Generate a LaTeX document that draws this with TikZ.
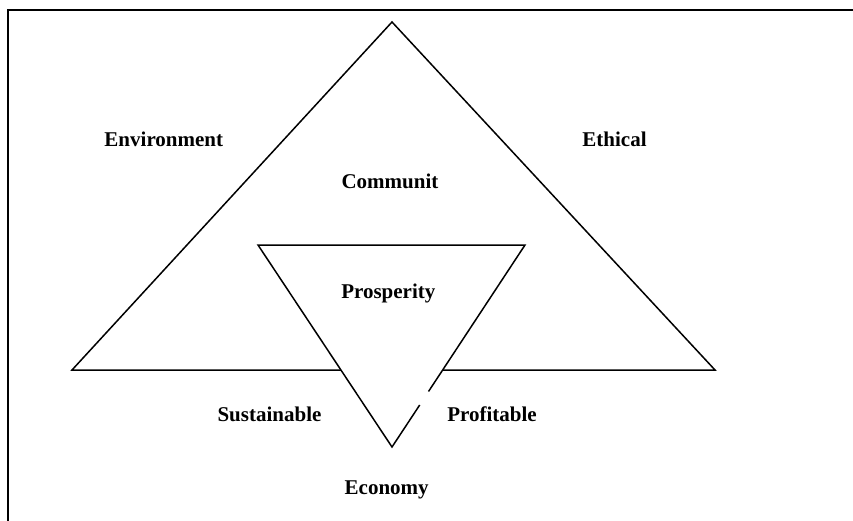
\documentclass[tikz,border=0pt]{standalone}
\usepackage{fontspec}
\setmainfont{Liberation Serif}
\begin{document}
\begin{tikzpicture}[x=1pt,y=-1pt,
  lbl/.style={font=\fontsize{21}{24}\selectfont\bfseries, anchor=base, inner sep=0pt},
  frameline/.style={line width=2pt, line cap=butt},
  triline/.style={line width=1.5pt, line join=miter}]
\useasboundingbox (0,0) rectangle (853,521);
% frame (top and left edges)
\draw[frameline] (853,10) -- (8,10) -- (8,521);
% big triangle
\coordinate (A) at (392,22);
\coordinate (BL) at (72,370);
\coordinate (BR) at (715,370);
\draw[triline] (BL) -- (A) -- (BR) -- cycle;
% inverted triangle
\coordinate (TL) at (258,245);
\coordinate (TR) at (525,245);
\coordinate (V) at (392,447);
\coordinate (G1) at (428.5,391.5);
\coordinate (G2) at (419.7,405);
\fill[white] (TL) -- (TR) -- (V) -- cycle;
\draw[triline] (G1) -- (TR) -- (TL) -- (V) -- (G2);
% labels
\node[lbl] (env) at (163.8,146.7) {Environment};
\node[lbl] (eth) at (614.5,146.7) {Ethical};
\node[lbl] (com) at (390,189) {Communit};
\node[lbl] (pro) at (388.3,298.3) {Prosperity};
\node[lbl] (sus) at (269.5,421) {Sustainable};
\node[lbl] (prf) at (492,421) {Profitable};
\node[lbl] (eco) at (386.7,494) {Economy};
\end{tikzpicture}
\end{document}
